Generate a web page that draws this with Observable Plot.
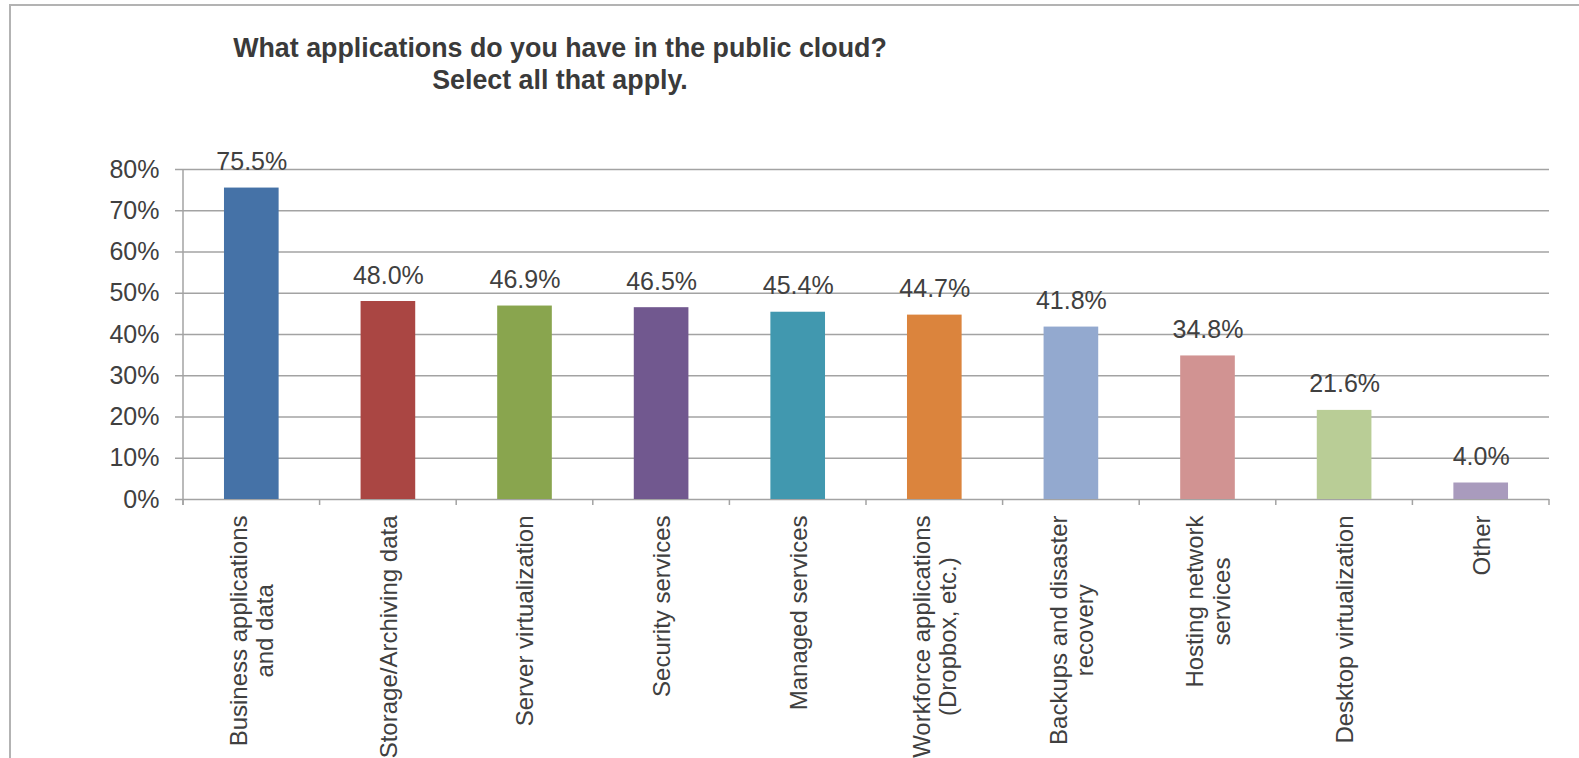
<!DOCTYPE html>
<html><head><meta charset="utf-8">
<script src="https://cdn.jsdelivr.net/npm/d3@7"></script>
<script src="https://cdn.jsdelivr.net/npm/@observablehq/plot@0.6"></script>
<style>
body{margin:0;background:#fff;}
#wrap{position:relative;width:1579px;height:758px;overflow:hidden;font-family:"Liberation Sans",Arial,sans-serif;}
#border{position:absolute;left:9px;top:4px;width:1700px;height:900px;border-left:2px solid #b3b3b3;border-top:2px solid #b3b3b3;pointer-events:none;}
#title{position:absolute;left:0;top:32px;width:1120px;text-align:center;font-weight:bold;font-size:26.8px;line-height:32px;color:#3a3a3a;}
#chart{position:absolute;left:0;top:110px;}
</style></head>
<body>
<div id="wrap">
  <div id="border"></div>
  <div id="title">What applications do you have in the public cloud?<br>Select all that apply.</div>
  <div id="chart"></div>
</div>
<script>
const categories = [
  "Business applications and data",
  "Storage/Archiving data",
  "Server virtualization",
  "Security services",
  "Managed services",
  "Workforce applications (Dropbox, etc.)",
  "Backups and disaster recovery",
  "Hosting network services",
  "Desktop virtualization",
  "Other"
];
const categoryLabels = [
  "Business applications\nand data",
  "Storage/Archiving data",
  "Server virtualization",
  "Security services",
  "Managed services",
  "Workforce applications\n(Dropbox, etc.)",
  "Backups and disaster\nrecovery",
  "Hosting network\nservices",
  "Desktop virtualization",
  "Other"
];
const values = [75.5, 48.0, 46.9, 46.5, 45.4, 44.7, 41.8, 34.8, 21.6, 4.0];
const yTicks = [0, 10, 20, 30, 40, 50, 60, 70, 80];
const palette = ["#4572A7", "#AA4643", "#89A54E", "#71588F", "#4198AF", "#DB843D", "#93A9CF", "#D19392", "#B9CD96", "#A99BBD"];

const data = categories.map((c, i) => ({category: c, label: categoryLabels[i], value: values[i]}));

const gridColor = "#a3a3a3";
const textColor = "#404040";

function separators(index, scales) {
  const x = scales.x, y = scales.y;
  const gap = (x.step() - x.bandwidth()) / 2;
  const y0 = y(0), yTop = y(80);
  const g = d3.create("svg:g").attr("stroke", gridColor).attr("stroke-width", 1.5);
  const bounds = categories.map(c => x(c) - gap);
  bounds.push(x(categories[categories.length - 1]) + x.bandwidth() + gap);
  for (const b of bounds) {
    g.append("line").attr("x1", b).attr("x2", b).attr("y1", y0).attr("y2", y0 + 6);
  }
  g.append("line").attr("x1", bounds[0]).attr("x2", bounds[0]).attr("y1", yTop).attr("y2", y0 + 6);
  return g.node();
}

const plot = Plot.plot({
  width: 1579,
  height: 648,
  marginTop: 59,
  marginBottom: 259,
  marginLeft: 183,
  marginRight: 30,
  style: {fontFamily: '"Liberation Sans", Arial, sans-serif', background: "transparent", overflow: "visible"},
  x: {domain: categories, paddingInner: 0.6, paddingOuter: 0.3, round: false, axis: null},
  y: {domain: [0, 80], axis: null},
  color: {domain: categories, range: palette},
  marks: [
    Plot.gridY(yTicks, {stroke: gridColor, strokeOpacity: 1, strokeWidth: 1.5}),
    Plot.axisY(yTicks, {tickSize: 8, tickPadding: 16, tickFormat: d => d + "%", fontSize: 25, fill: textColor, stroke: gridColor, strokeWidth: 1.5, label: null}),
    Plot.barY(data, {x: "category", y: "value", fill: "category"}),
    separators,
    Plot.text(data, {x: "category", y: "value", text: d => d.value.toFixed(1) + "%", dy: -18, lineAnchor: "bottom", fontSize: 25, fill: textColor}),
    Plot.text(data, {x: "category", text: "label", frameAnchor: "bottom", dy: 16, rotate: -90, textAnchor: "end", lineAnchor: "middle", lineHeight: 1.1, fontSize: 24, fill: textColor})
  ]
});

document.getElementById("chart").append(plot);

// center multi-line rotated labels on their longest line (as in the original)
plot.querySelectorAll("text").forEach(t => {
  const spans = t.querySelectorAll("tspan");
  if (spans.length < 2) return;
  let max = 0;
  spans.forEach(s => { max = Math.max(max, s.getComputedTextLength()); });
  t.setAttribute("text-anchor", "middle");
  spans.forEach(s => s.setAttribute("x", -max / 2));
});
</script>
</body></html>
